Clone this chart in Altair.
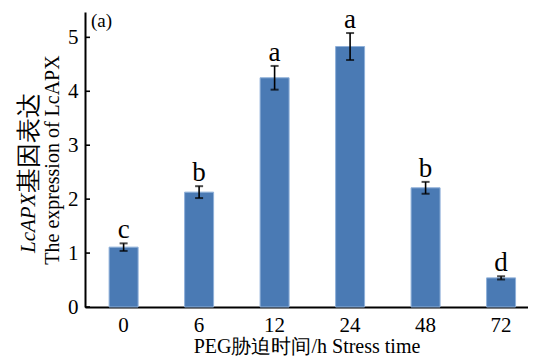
import altair as alt
import pandas as pd

times = ["0", "6", "12", "24", "48", "72"]
means = [1.11, 2.13, 4.25, 4.83, 2.21, 0.54]
errs = [0.07, 0.11, 0.22, 0.25, 0.11, 0.03]
letters = ["c", "b", "a", "a", "b", "d"]
yticks = [0, 1, 2, 3, 4, 5]

ytitle_it = "LcAPX"
ytitle_cn = "基因表达"
ytitle_en = "The expression of LcAPX"
xtitle = "PEG胁迫时间/h Stress time"
panel = "(a)"

df = pd.DataFrame({"t": times, "m": means, "e": errs, "l": letters})
df["lo"] = df["m"] - df["e"]
df["hi"] = df["m"] + df["e"]

serif = "Liberation Serif"

xs = alt.Scale(domain=times, paddingInner=0.616, paddingOuter=0.242, align=0.66)
ys = alt.Scale(domain=[0, 5.47], nice=False, zero=True)

X = alt.X("t:N", sort=times, scale=xs,
          axis=alt.Axis(title=xtitle, labelAngle=0, ticks=False, labelFontSize=21,
                        labelFont=serif, labelColor="black", titleFont=serif,
                        titleFontSize=20, titleFontWeight="normal", titleColor="black",
                        labelPadding=7, titlePadding=1, domainColor="black", domainWidth=2))
Yax = alt.Axis(values=yticks, ticks=False, labelFontSize=21, labelFont=serif,
               labelColor="black", labelPadding=7, domainColor="black", domainWidth=2,
               grid=False, title=None)

base = alt.Chart(df)
bars = base.mark_bar(color="#4a7ab4", stroke="#8fb0d9", strokeWidth=1).encode(
    x=X, y=alt.Y("m:Q", scale=ys, axis=Yax))
rule = base.mark_rule(color="black", strokeWidth=1.6).encode(
    x=X, y=alt.Y("lo:Q", scale=ys, axis=Yax), y2="hi:Q")
cap_lo = base.mark_tick(color="black", size=8, thickness=2).encode(
    x=X, y=alt.Y("lo:Q", scale=ys, axis=Yax))
cap_hi = base.mark_tick(color="black", size=8, thickness=2).encode(
    x=X, y=alt.Y("hi:Q", scale=ys, axis=Yax))
lett = base.mark_text(baseline="alphabetic", dy=-5, fontSize=27, font=serif, color="black").encode(
    x=X, y=alt.Y("hi:Q", scale=ys, axis=Yax), text="l:N")

tickdf = pd.DataFrame({"v": yticks})
inner_ticks = alt.Chart(tickdf).mark_rule(color="black", strokeWidth=1.6).encode(
    y=alt.Y("v:Q", scale=ys, axis=Yax), x=alt.value(0), x2=alt.value(5))

t1 = alt.Chart(pd.DataFrame({"s": [ytitle_it]})).mark_text(
    angle=270, align="left", baseline="middle", fontStyle="italic", fontSize=21,
    font=serif, color="black").encode(x=alt.value(-56), y=alt.value(241), text="s:N")
t2 = alt.Chart(pd.DataFrame({"s": [ytitle_cn]})).mark_text(
    angle=270, align="left", baseline="middle", fontSize=25,
    font=serif, color="black").encode(x=alt.value(-56), y=alt.value(181), text="s:N")
t3 = alt.Chart(pd.DataFrame({"s": [ytitle_en]})).mark_text(
    angle=270, align="center", baseline="middle", fontSize=20,
    font=serif, color="black").encode(x=alt.value(-32), y=alt.value(148), text="s:N")
t4 = alt.Chart(pd.DataFrame({"s": [panel]})).mark_text(
    align="left", baseline="middle", fontSize=19,
    font=serif, color="black").encode(x=alt.value(6), y=alt.value(9), text="s:N")

chart = alt.layer(bars, rule, cap_lo, cap_hi, lett, inner_ticks, t1, t2, t3, t4).properties(
    width=443, height=295,
    autosize=alt.AutoSizeParams(type="none"),
    padding={"left": 77, "top": 4, "right": 0, "bottom": 51},
    background="white",
).configure_view(stroke=None)

chart.save("out.html", embed_options={"renderer": "svg", "actions": False})
